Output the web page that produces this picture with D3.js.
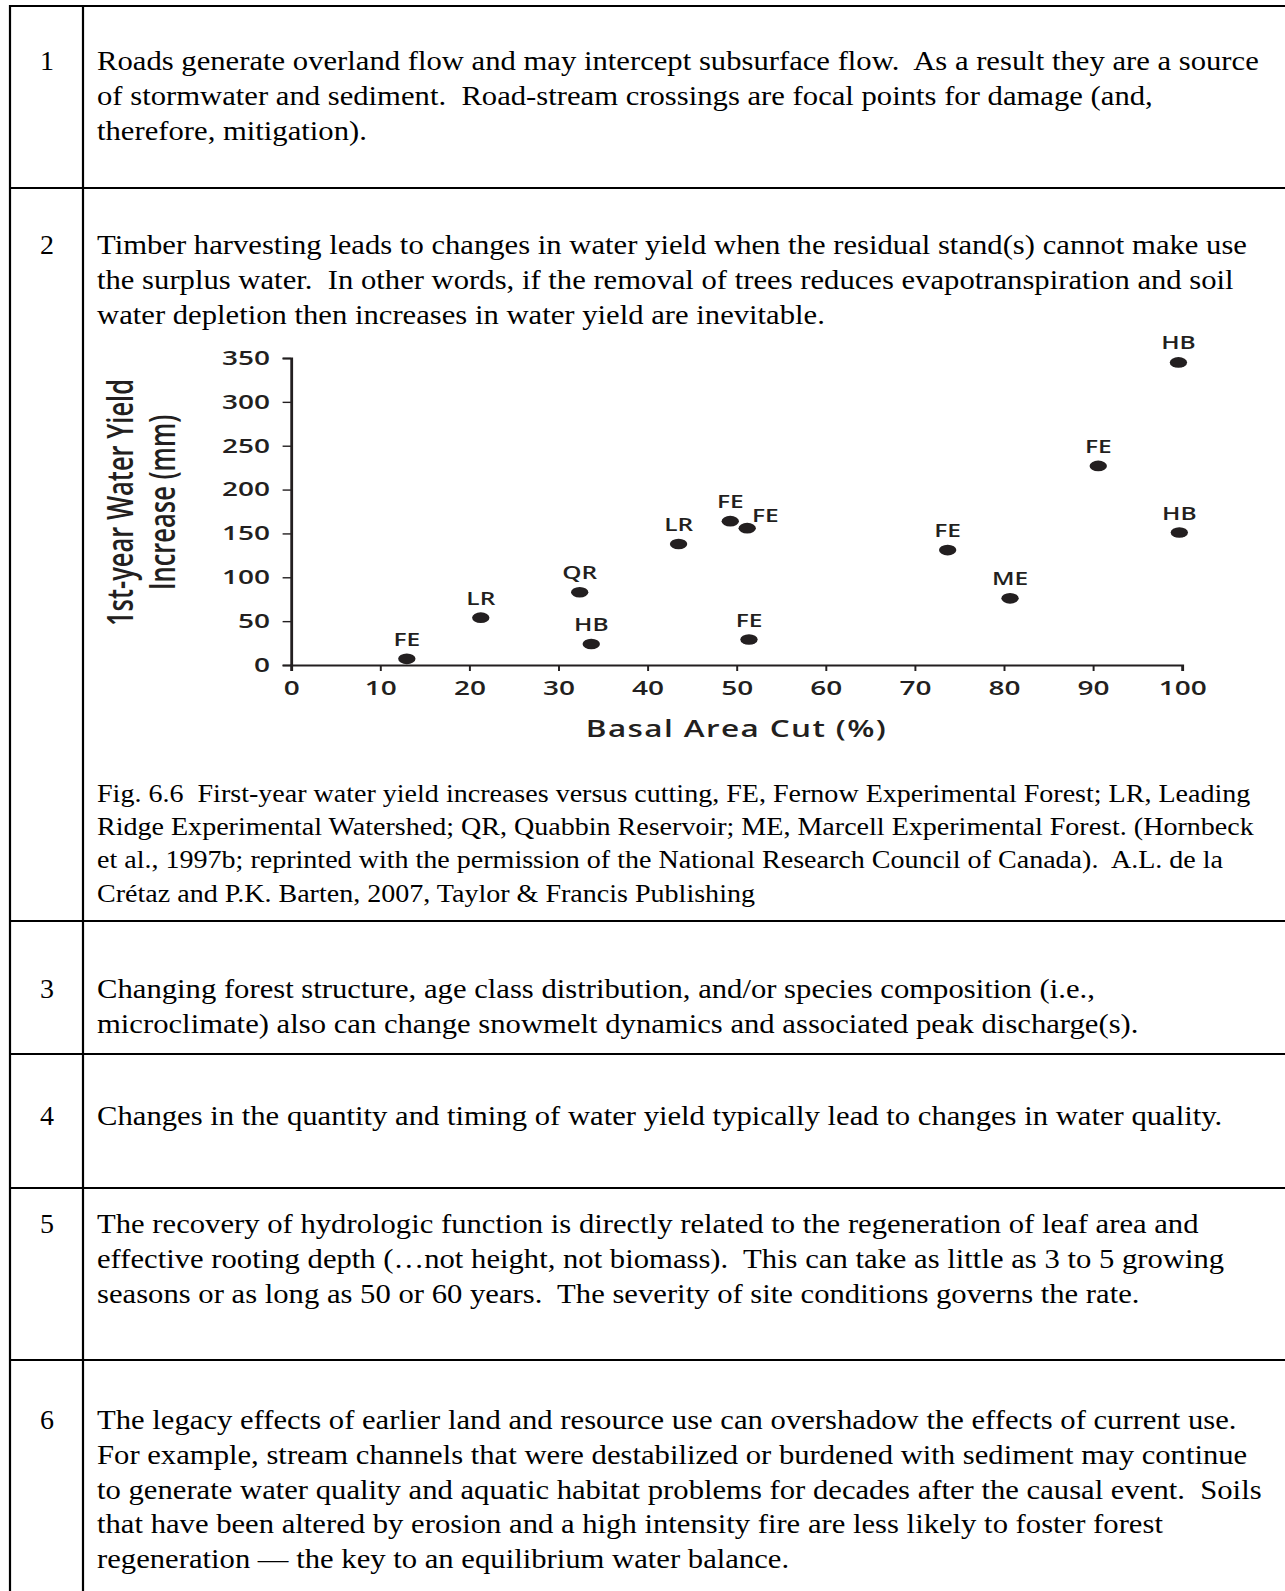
<!DOCTYPE html>
<html>
<head>
<meta charset="utf-8">
<script src="https://cdn.jsdelivr.net/npm/d3@7"></script>
<style>
  body { margin: 0; background: #fff; }
  svg { display: block; }
  .body-text { font-family: "Liberation Serif", "DejaVu Serif", serif; fill: #000; }
  .chart text { font-family: "Open Sans", "DejaVu Sans", sans-serif; fill: #231f20; font-weight: 600; }
</style>
</head>
<body>
<div id="page"></div>
<script>
// ---- data ----
var rowNumbers = ["1", "2", "3", "4", "5", "6"];

var rowText = [
    ["Roads generate overland flow and may intercept subsurface flow.  As a result they are a source",
     "of stormwater and sediment.  Road-stream crossings are focal points for damage (and,",
     "therefore, mitigation)."],
    ["Timber harvesting leads to changes in water yield when the residual stand(s) cannot make use",
     "the surplus water.  In other words, if the removal of trees reduces evapotranspiration and soil",
     "water depletion then increases in water yield are inevitable."],
    ["Changing forest structure, age class distribution, and/or species composition (i.e.,",
     "microclimate) also can change snowmelt dynamics and associated peak discharge(s)."],
    ["Changes in the quantity and timing of water yield typically lead to changes in water quality."],
    ["The recovery of hydrologic function is directly related to the regeneration of leaf area and",
     "effective rooting depth (\u2026not height, not biomass).  This can take as little as 3 to 5 growing",
     "seasons or as long as 50 or 60 years.  The severity of site conditions governs the rate."],
    ["The legacy effects of earlier land and resource use can overshadow the effects of current use.",
     "For example, stream channels that were destabilized or burdened with sediment may continue",
     "to generate water quality and aquatic habitat problems for decades after the causal event.  Soils",
     "that have been altered by erosion and a high intensity fire are less likely to foster forest",
     "regeneration \u2014 the key to an equilibrium water balance."]
];

var captionText = [
    "Fig. 6.6  First-year water yield increases versus cutting, FE, Fernow Experimental Forest; LR, Leading",
    "Ridge Experimental Watershed; QR, Quabbin Reservoir; ME, Marcell Experimental Forest. (Hornbeck",
    "et al., 1997b; reprinted with the permission of the National Research Council of Canada).  A.L. de la",
    "Cr\u00e9taz and P.K. Barten, 2007, Taylor & Francis Publishing"
];

var sites = ["FE", "LR", "QR", "HB", "LR", "FE", "FE", "FE", "FE", "ME", "FE", "HB", "HB"];
var basalAreaCut = [13.0, 21.3, 32.4, 33.7, 43.5, 49.3, 51.2, 51.4, 73.7, 80.7, 90.6, 99.6, 99.7];
var yieldIncrease = [7, 54, 83, 24, 138, 164, 156, 29, 131, 76, 227, 345, 151];

var xTicks = [0, 10, 20, 30, 40, 50, 60, 70, 80, 90, 100];
var yTicks = [0, 50, 100, 150, 200, 250, 300, 350];

var xTitle = "Basal Area Cut (%)";
var yTitle = ["1st-year Water Yield", "Increase (mm)"];

// ---- page layout ----
var width = 1285,
    height = 1591;

var svg = d3.select("#page").append("svg")
    .attr("width", width)
    .attr("height", height);

svg.append("rect").attr("width", width).attr("height", height).attr("fill", "#fff");

var rowTops = [6, 188, 921, 1054, 1188, 1360],
    firstBaselines = [70, 254, 998, 1125, 1233, 1429],
    lineHeight = 34.8,
    textLeft = 97,
    textStretch = 1.095,
    numberX = 47,
    bodySize = 28;

// keep the double spaces after full stops
function spaced(s) {
    return s.replace(/  /g, "\u00a0 ");
}

// table rules
var rules = svg.append("g").attr("stroke", "#000").attr("stroke-width", 2.2);
rules.selectAll("line.h")
    .data(rowTops)
    .enter().append("line")
    .attr("class", "h")
    .attr("x1", 9).attr("x2", width)
    .attr("y1", function (d) { return d; })
    .attr("y2", function (d) { return d; });
[10, 83].forEach(function (x) {
    rules.append("line")
        .attr("x1", x).attr("x2", x)
        .attr("y1", rowTops[0] - 1).attr("y2", height);
});

// row numbers + paragraphs
var rows = svg.append("g").attr("class", "body-text").attr("font-size", bodySize);
rowNumbers.forEach(function (num, i) {
    rows.append("text")
        .attr("x", numberX)
        .attr("y", firstBaselines[i])
        .attr("text-anchor", "middle")
        .text(num);
    rows.append("g")
        .attr("transform", "translate(" + textLeft + ",0) scale(" + textStretch + ",1)")
        .selectAll("text")
        .data(rowText[i])
        .enter().append("text")
        .attr("x", 0)
        .attr("y", function (d, j) { return firstBaselines[i] + j * lineHeight; })
        .text(spaced);
});

// caption under the figure
svg.append("g").attr("class", "body-text").attr("font-size", 25.5)
    .attr("transform", "translate(" + textLeft + ",0) scale(1.1,1)")
    .selectAll("text")
    .data(captionText)
    .enter().append("text")
    .attr("x", 0)
    .attr("y", function (d, j) { return 802 + j * 33.2; })
    .text(spaced);

// ---- scatter chart ----
// the figure in the source is stretched sideways, so the plot group is scaled in x
var stretch = 1.4,
    originX = 291,
    topY = 358,
    plotW = (1182 - originX) / stretch,
    plotH = 665 - topY;

var chart = svg.append("g")
    .attr("class", "chart")
    .attr("transform", "translate(" + originX + "," + topY + ") scale(" + stretch + ",1)");

var x = d3.scaleLinear().domain([0, 100]).range([0, plotW]);
var y = d3.scaleLinear().domain([0, 350]).range([plotH, 0]);

var xAxis = chart.append("g")
    .attr("transform", "translate(0," + plotH + ")")
    .call(d3.axisBottom(x).tickValues(xTicks).tickSizeOuter(0).tickSize(6).tickPadding(10));

var yAxis = chart.append("g")
    .call(d3.axisLeft(y).tickValues(yTicks).tickSizeOuter(0).tickSize(6).tickPadding(9));

[xAxis, yAxis].forEach(function (ax) {
    ax.select(".domain").attr("stroke", "#231f20").attr("stroke-width", 2);
    ax.selectAll(".tick line").attr("stroke", "#231f20").attr("stroke-width", 1.4);
    ax.selectAll(".tick text")
        .attr("font-size", 20)
        .attr("fill", "#231f20")
        .attr("font-family", "'Open Sans', 'DejaVu Sans', sans-serif");
});

chart.append("text")
    .attr("x", plotW / 2)
    .attr("y", plotH + 72)
    .attr("text-anchor", "middle")
    .attr("font-size", 22.5)
    .attr("letter-spacing", 1)
    .text(xTitle);

chart.append("g")
    .attr("transform", "translate(" + (-113) + "," + (plotH / 2 - 9) + ") rotate(-90)")
    .selectAll("text")
    .data(yTitle)
    .enter().append("text")
    .attr("x", 0)
    .attr("y", function (d, i) { return i * 30; })
    .attr("text-anchor", "middle")
    .attr("font-size", 25.5)
    .attr("font-weight", 400)
    .text(function (d) { return d; });

var points = d3.range(sites.length).map(function (i) {
    return { site: sites[i], cut: basalAreaCut[i], yield: yieldIncrease[i] };
});

// a label goes beside its dot when a taller neighbour sits right next to it
points.forEach(function (p) {
    p.side = points.some(function (q) {
        return q !== p && Math.abs(q.cut - p.cut) < 3 && q.yield > p.yield && q.yield - p.yield < 20;
    });
});

var dots = chart.append("g").selectAll("g")
    .data(points)
    .enter().append("g")
    .attr("transform", function (d) { return "translate(" + x(d.cut) + "," + y(d.yield) + ")"; });

dots.append("ellipse")
    .attr("rx", 6.2)
    .attr("ry", 5.3)
    .attr("fill", "#231f20");

dots.append("text")
    .attr("x", function (d) { return d.side ? 3.5 : 0; })
    .attr("y", function (d) { return d.side ? -6 : -13; })
    .attr("text-anchor", function (d) { return d.side ? "start" : "middle"; })
    .attr("font-size", 17.5)
    .text(function (d) { return d.site; });
</script>
</body>
</html>
